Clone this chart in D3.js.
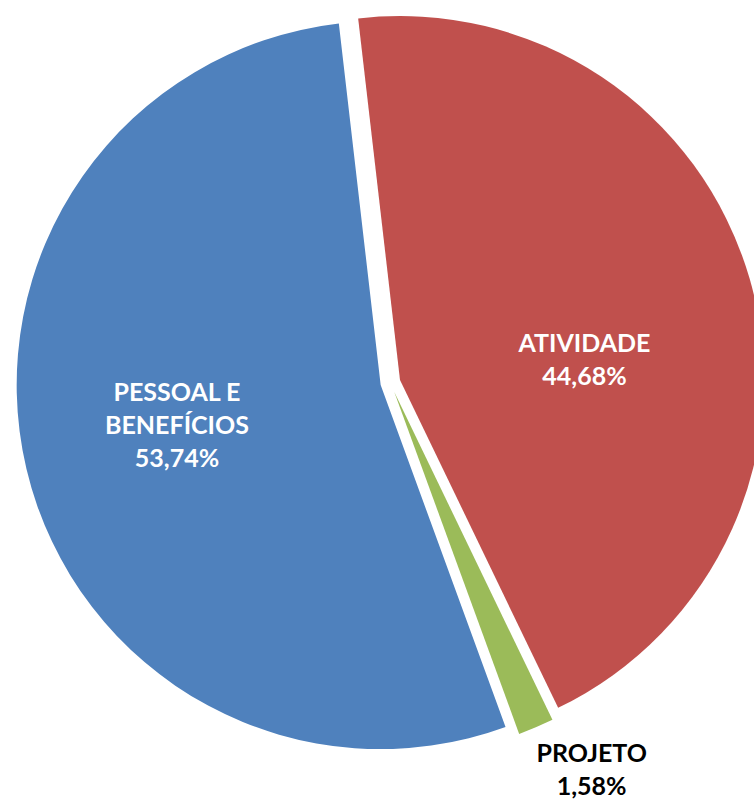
<!DOCTYPE html>
<html>
<head>
<meta charset="utf-8">
<script src="https://cdn.jsdelivr.net/npm/d3@7/dist/d3.min.js"></script>
<style>
  html, body { margin: 0; padding: 0; background: #fff; }
  svg { display: block; }
  text { font-family: Lato, "Open Sans", sans-serif; font-weight: bold; }
</style>
</head>
<body>
<script>
// ---- data ----
const categories = ["ATIVIDADE", "PROJETO", "PESSOAL E BENEFÍCIOS"];
const labelLines = [["ATIVIDADE"], ["PROJETO"], ["PESSOAL E", "BENEFÍCIOS"]];
const values = [44.68, 1.58, 53.74];
const valueLabels = ["44,68%", "1,58%", "53,74%"];
const colors = ["#C0504D", "#9BBB59", "#4F81BD"];
const labelColors = ["#ffffff", "#000000", "#ffffff"];

// ---- layout ----
const W = 754, H = 807;
const cx = 390.4, cy = 382.8;
const R = 364;
const explode = 10;
const startDeg = -6.6;
// label placement: angle shift from slice bisector (deg) and radius factor
const labelAngleShift = [9.7, -4.7, 2.4];
const labelRadiusFactor = [0.51, 1.17, 0.57];
const fontSize = 25;
const lineHeight = 33;
const capHalf = 9.3;

const svg = d3.select("body").append("svg")
  .attr("width", W).attr("height", H);

const rad = d => d * Math.PI / 180;
const pie = d3.pie().sort(null)
  .startAngle(rad(startDeg))
  .endAngle(rad(startDeg + 360))
  .value(d => d);
const arcs = pie(values);
const arc = d3.arc().innerRadius(0).outerRadius(R);

const g = svg.append("g").attr("transform", `translate(${cx},${cy})`);

arcs.forEach((a, i) => {
  const mid = (a.startAngle + a.endAngle) / 2;
  const ox = explode * Math.sin(mid), oy = -explode * Math.cos(mid);
  const sg = g.append("g").attr("transform", `translate(${ox},${oy})`);
  sg.append("path").attr("d", arc(a)).attr("fill", colors[i]);

  const la = mid + rad(labelAngleShift[i]);
  const lr = R * labelRadiusFactor[i];
  const lx = lr * Math.sin(la), ly = -lr * Math.cos(la);
  const lines = labelLines[i].concat([valueLabels[i]]);
  const n = lines.length;
  lines.forEach((t, j) => {
    sg.append("text")
      .attr("x", lx)
      .attr("y", ly + (j - (n - 1) / 2) * lineHeight + capHalf)
      .attr("text-anchor", "middle")
      .attr("font-size", fontSize)
      .attr("fill", labelColors[i])
      .text(t);
  });
});
</script>
</body>
</html>
